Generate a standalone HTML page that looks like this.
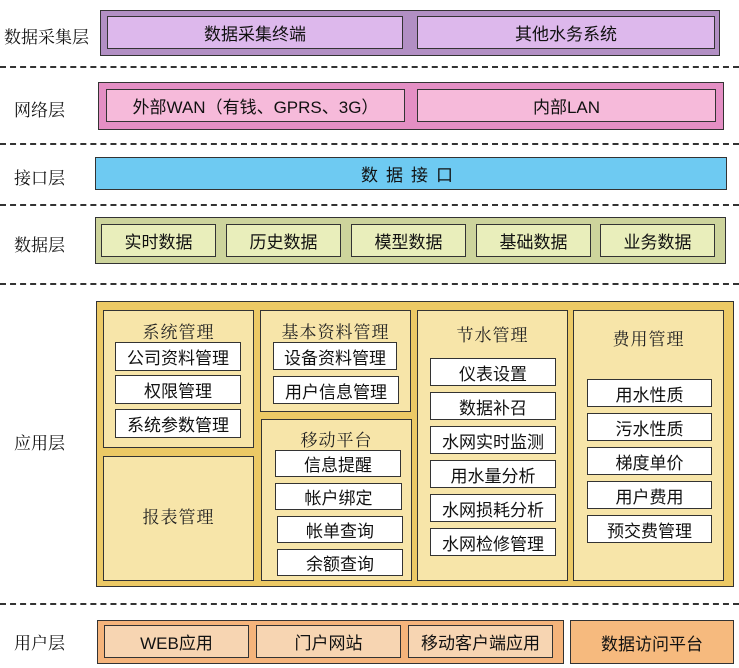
<!DOCTYPE html><html><head><meta charset="utf-8"><style>
body{margin:0;width:739px;height:668px;background:#fff;position:relative;overflow:hidden;font-family:"Liberation Sans Narrow","Liberation Sans","Noto Sans CJK SC",sans-serif}
.b{position:absolute;box-sizing:border-box;border:1.5px solid #333;display:flex;align-items:center;justify-content:center;font-size:17px;color:#111;white-space:nowrap}
.l{position:absolute;left:4px;font-family:"Liberation Serif","Noto Serif CJK SC",serif;font-size:17px;color:#111}
.d{position:absolute;left:0;width:739px;border-top:2px dashed #333}
.p{position:absolute;box-sizing:border-box;border:1.5px solid #333;background:#f7e5a9;font-family:"Liberation Serif","Noto Serif CJK SC",serif;font-size:17px;text-align:center;color:#222;letter-spacing:1px}
.w{background:#fff}
</style></head><body>
<div class="l" style="top:23px">数据采集层</div>
<div class="l" style="top:96px;left:14px">网络层</div>
<div class="l" style="top:164px;left:14px">接口层</div>
<div class="l" style="top:231px;left:14px">数据层</div>
<div class="l" style="top:429px;left:14px">应用层</div>
<div class="l" style="top:629px;left:14px">用户层</div>
<div class="d" style="top:66px"></div><div class="d" style="top:143px"></div><div class="d" style="top:204px"></div><div class="d" style="top:283px"></div><div class="d" style="top:603px"></div>

<div class="b" style="left:100px;top:10px;width:620px;height:46px;background:#b28fc4"></div>
<div class="b" style="left:107px;top:16px;width:296px;height:33px;background:#ddb8ec">数据采集终端</div>
<div class="b" style="left:417px;top:16px;width:298px;height:33px;background:#ddb8ec">其他水务系统</div>

<div class="b" style="left:98px;top:82px;width:626px;height:48px;background:#e48fc4"></div>
<div class="b" style="left:106px;top:89px;width:299px;height:33px;background:#f6bada">外部WAN（有钱、GPRS、3G）</div>
<div class="b" style="left:417px;top:89px;width:299px;height:33px;background:#f6bada">内部LAN</div>

<div class="b" style="left:95px;top:157px;width:632px;height:33px;background:#6ecaf2;letter-spacing:8px">数据接口</div>

<div class="b" style="left:95px;top:217px;width:631px;height:47px;background:#cdd49c"></div>
<div class="b" style="left:101px;top:224px;width:115px;height:33px;background:#e9eebb">实时数据</div>
<div class="b" style="left:226px;top:224px;width:115px;height:33px;background:#e9eebb">历史数据</div>
<div class="b" style="left:351px;top:224px;width:115px;height:33px;background:#e9eebb">模型数据</div>
<div class="b" style="left:476px;top:224px;width:115px;height:33px;background:#e9eebb">基础数据</div>
<div class="b" style="left:600px;top:224px;width:115px;height:33px;background:#e9eebb">业务数据</div>

<div class="b" style="left:96px;top:301px;width:638px;height:286px;background:#ecc965"></div>
<div class="p" style="left:103px;top:310px;width:151px;height:138px;padding-top:7px">系统管理</div>
<div class="b w" style="left:115px;top:342px;width:126px;height:29px">公司资料管理</div>
<div class="b w" style="left:115px;top:375px;width:126px;height:29px">权限管理</div>
<div class="b w" style="left:115px;top:409px;width:126px;height:29px">系统参数管理</div>
<div class="p" style="left:103px;top:456px;width:151px;height:125px;padding-top:46px">报表管理</div>
<div class="p" style="left:260px;top:310px;width:151px;height:102px;padding-top:7px">基本资料管理</div>
<div class="b w" style="left:273px;top:342px;width:124px;height:28px">设备资料管理</div>
<div class="b w" style="left:273px;top:376px;width:126px;height:28px">用户信息管理</div>
<div class="p" style="left:261px;top:419px;width:151px;height:162px;padding-top:6px">移动平台</div>
<div class="b w" style="left:275px;top:450px;width:126px;height:27px">信息提醒</div>
<div class="b w" style="left:275px;top:483px;width:127px;height:27px">帐户绑定</div>
<div class="b w" style="left:277px;top:516px;width:126px;height:27px">帐单查询</div>
<div class="b w" style="left:277px;top:549px;width:126px;height:27px">余额查询</div>
<div class="p" style="left:417px;top:310px;width:151px;height:271px;padding-top:10px">节水管理</div>
<div class="b w" style="left:430px;top:358px;width:126px;height:28px">仪表设置</div>
<div class="b w" style="left:430px;top:392px;width:126px;height:28px">数据补召</div>
<div class="b w" style="left:430px;top:426px;width:126px;height:28px">水网实时监测</div>
<div class="b w" style="left:430px;top:460px;width:126px;height:28px">用水量分析</div>
<div class="b w" style="left:430px;top:494px;width:126px;height:28px">水网损耗分析</div>
<div class="b w" style="left:430px;top:528px;width:126px;height:28px">水网检修管理</div>
<div class="p" style="left:573px;top:310px;width:151px;height:271px;padding-top:14px">费用管理</div>
<div class="b w" style="left:587px;top:379px;width:125px;height:28px">用水性质</div>
<div class="b w" style="left:587px;top:413px;width:125px;height:28px">污水性质</div>
<div class="b w" style="left:587px;top:447px;width:125px;height:28px">梯度单价</div>
<div class="b w" style="left:587px;top:481px;width:125px;height:28px">用户费用</div>
<div class="b w" style="left:587px;top:515px;width:125px;height:28px">预交费管理</div>

<div class="b" style="left:97px;top:620px;width:467px;height:44px;background:#f5b47b"></div>
<div class="b" style="left:104px;top:625px;width:145px;height:33px;background:#f7d5b2">WEB应用</div>
<div class="b" style="left:256px;top:625px;width:145px;height:33px;background:#f7d5b2">门户网站</div>
<div class="b" style="left:408px;top:625px;width:145px;height:33px;background:#f7d5b2">移动客户端应用</div>
<div class="b" style="left:570px;top:620px;width:164px;height:44px;background:#f6ba7e">数据访问平台</div>
</body></html>
